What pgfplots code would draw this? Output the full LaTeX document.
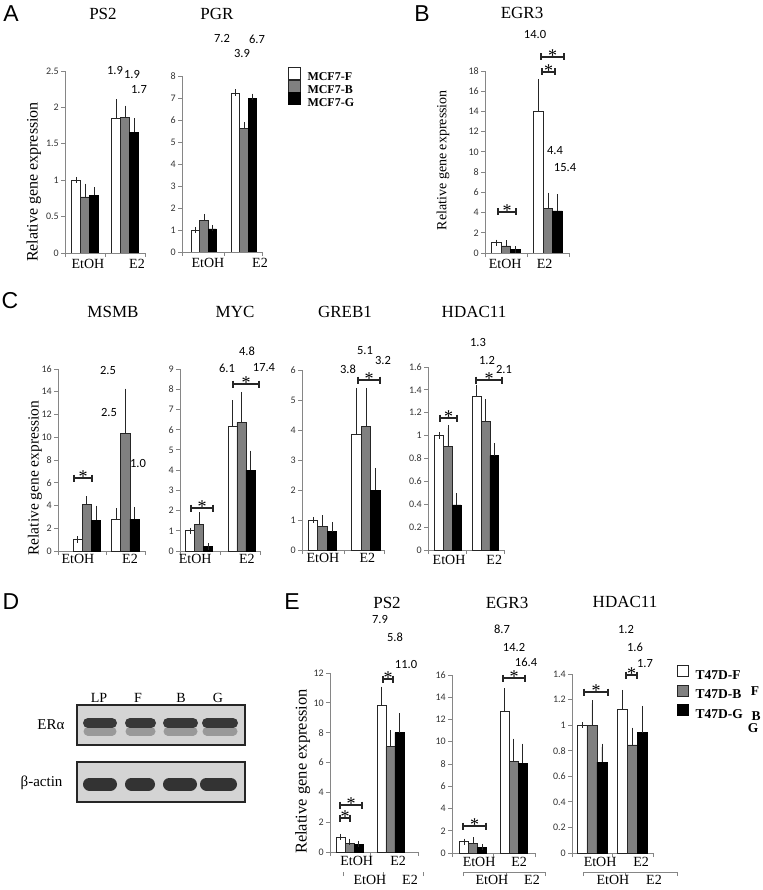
\documentclass[border=0pt]{standalone}
\usepackage{pgfplots}
\pgfplotsset{compat=1.18}
\usepackage{fontspec}
\setmainfont{Liberation Serif}
\newfontfamily\calfont{Carlito}
\newfontfamily\arialfont{Liberation Sans}

\definecolor{axgray}{RGB}{134,134,134}
\definecolor{barg}{RGB}{128,128,128}
\definecolor{blotbg}{RGB}{212,212,212}

\newcommand\tickfont{\calfont\fontsize{10}{10}\selectfont}
\newcommand\labfont{\fontsize{14}{14}\selectfont}
\newcommand\valfont{\calfont\fontsize{12.5}{12.5}\selectfont}
\newcommand\ttlfont{\fontsize{17}{17}\selectfont}
\newcommand\letfont{\arialfont\fontsize{23}{23}\selectfont}

% significance bracket: x1, x2, y (pixels, y down)
\newcommand\sig[3]{%
  \draw[black!85, line width=1.3pt] (#1,#3) -- (#2,#3) (#1,#3-3.5) -- (#1,#3+3.5) (#2,#3-3.5) -- (#2,#3+3.5);
  \node[font=\fontsize{18}{18}\selectfont, anchor=base, inner sep=0pt] at ({(#1+#2)/2},#3+4.5) {*};}

\pgfplotsset{
  bx/.style={
    scale only axis, anchor=south west, axis lines*=left,
    axis line style={draw=axgray, line width=0.8pt},
    tick style={draw=axgray, line width=0.8pt},
    tick align=outside, major tick length=4pt,
    ymin=0, ybar=0pt, bar width=9pt,
    xticklabels={,,},
    yticklabel style={font=\tickfont, text=black!80, inner sep=2pt},
    /pgf/number format/assume math mode=true,
    extra x tick labels={EtOH,E2},
    extra x tick style={major tick length=0pt, xticklabel style={font=\labfont, text=black}},
  },
  barF/.style={fill=white, draw=black!85, line width=0.8pt,
    error bars/.cd, y dir=plus, y explicit,
    error bar style={draw=black!85, line width=0.8pt},
    error mark options={draw=black!85, mark size=3.2pt, line width=0.8pt}},
  barB/.style={fill=barg, draw=black!85, line width=0.8pt,
    error bars/.cd, y dir=plus, y explicit,
    error bar style={draw=black!85, line width=0.8pt},
    error mark options={draw=black!85, mark size=3.2pt, line width=0.8pt}},
  barG/.style={fill=black, draw=black, line width=0.8pt,
    error bars/.cd, y dir=plus, y explicit,
    error bar style={draw=black!85, line width=0.8pt},
    error mark options={draw=black!85, mark size=3.2pt, line width=0.8pt}},
  sec/.style={
    scale only axis, anchor=south west, height=1pt, ymin=0, ymax=1,
    hide y axis, axis x line*=bottom,
    axis line style={draw=axgray, line width=0.8pt},
    tick style={draw=axgray, line width=0.8pt},
    tick align=outside, major tick length=4pt,
    xticklabels={,,},
    extra x tick labels={EtOH,E2},
    extra x tick style={major tick length=0pt, xticklabel style={font=\labfont, text=black}},
  },
  blot/.style={
    scale only axis, anchor=south west, width=168pt, height=40pt,
    xmin=77, xmax=245, ymin=0, ymax=40, xtick=\empty, ytick=\empty,
    axis line style={line width=1.5pt, black!85},
    axis background/.style={fill=blotbg},
    unbounded coords=jump,
  },
}

\begin{document}
\begin{tikzpicture}
\useasboundingbox (0,0) rectangle (762pt,-890pt);

% ---------------- A: PS2
\begin{axis}[bx, at={(65pt,-253pt)}, width=80pt, height=182pt,
  xmin=-0.5, xmax=1.5, xtick={-0.5,0.5,1.5}, extra x ticks={0.075,1.3},
  ymax=2.5, ytick distance=0.5,
  extra x tick style={xticklabel style={yshift=-3pt}},
  ylabel={Relative gene expression},
  ylabel style={at={(axis description cs:-0.39,0.39)}, anchor=center, font=\fontsize{16}{16}\selectfont}]
\addplot[barF] coordinates {(0,1.00) +- (0,0) (1,1.85) +- (0,0.22)};
\addplot[barB] coordinates {(0,0.77) +- (0,0.14) (1,1.86) +- (0,0.12)};
\addplot[barG] coordinates {(0,0.79) +- (0,0.07) (1,1.66) +- (0,0.15)};
\end{axis}

% ---------------- A: PGR
\begin{axis}[bx, at={(182pt,-252pt)}, width=80pt, height=176pt, bar width=8.3pt,
  xmin=-0.55, xmax=1.45, xtick={-0.55,0.5,1.45}, extra x ticks={0.1,1.4},
  ymax=8, ytick distance=1,
  extra x tick style={xticklabel style={yshift=-3pt}}]
\addplot[barF] coordinates {(0,1.00) +- (0,0) (1,7.20) +- (0,0.05)};
\addplot[barB] coordinates {(0,1.42) +- (0,0.17) (1,5.60) +- (0,0.15)};
\addplot[barG] coordinates {(0,1.05) +- (0,0.04) (1,7.00) +- (0,0.05)};
\end{axis}

% legend MCF7
\begin{axis}[hide axis, scale only axis, width=10pt, height=10pt,
  at={(288pt,-67pt)}, anchor=north west, xmin=0, xmax=1, ymin=0, ymax=1,
  legend style={at={(0,1)}, anchor=north west, draw=none, fill=none, inner sep=0pt,
    row sep=-3pt, font=\bfseries\fontsize{12}{12}\selectfont,
    nodes={inner sep=0.5pt},
    /tikz/every odd column/.append style={column sep=6pt}},
  legend cell align=left,
  legend image code/.code={\draw[#1] (0pt,-2pt) rectangle (12pt,10pt);}]
\addlegendimage{fill=white, draw=black!85, line width=0.8pt}
\addlegendentry{MCF7-F}
\addlegendimage{fill=barg, draw=black!85, line width=0.8pt}
\addlegendentry{MCF7-B}
\addlegendimage{fill=black, draw=black, line width=0.8pt}
\addlegendentry{MCF7-G}
\end{axis}

% ---------------- B: EGR3
\begin{axis}[bx, at={(485pt,-253pt)}, width=84pt, height=182pt, bar width=9.5pt,
  xmin=-0.5, xmax=1.5, xtick={-0.5,0.5,1.5}, extra x ticks={-0.02,0.92},
  ymax=18, ytick distance=2,
  extra x tick style={xticklabel style={yshift=-3pt}},
  ylabel={Relative gene expression},
  ylabel style={at={(axis description cs:-0.5,0.51)}, anchor=center, font=\fontsize{14}{14}\selectfont}]
\addplot[barF] coordinates {(0,1.00) +- (0,0) (1,14.0) +- (0,2.9)};
\addplot[barB] coordinates {(0,0.70) +- (0,0.25) (1,4.40) +- (0,1.25)};
\addplot[barG] coordinates {(0,0.35) +- (0,0) (1,4.16) +- (0,1.32)};
\end{axis}

% ---------------- C: MSMB
\begin{axis}[bx, at={(58pt,-551pt)}, width=87pt, height=182pt, bar width=9.2pt,
  xmin=-0.75, xmax=1.51, xtick={-0.75,0.5,1.51}, extra x ticks={-0.23,1.12},
  ymax=16, ytick distance=2,
  ylabel={Relative gene expression},
  ylabel style={at={(axis description cs:-0.264,0.40)}, anchor=center, font=\fontsize{15.5}{15.5}\selectfont}]
\addplot[barF] coordinates {(0,1.00) +- (0,0) (1,2.74) +- (0,0.73)};
\addplot[barB] coordinates {(0,4.10) +- (0,0.45) (1,10.3) +- (0,3.7)};
\addplot[barG] coordinates {(0,2.70) +- (0,1.00) (1,2.80) +- (0,0.80)};
\end{axis}

% ---------------- C: MYC
\begin{axis}[bx, at={(180pt,-551pt)}, width=80pt, height=182pt,
  xmin=-0.46, xmax=1.44, xtick={-0.46,0.5,1.44}, extra x ticks={-0.1,1.13},
  ymax=9, ytick distance=1]
\addplot[barF] coordinates {(0,1.00) +- (0,0) (1,6.14) +- (0,1.15)};
\addplot[barB] coordinates {(0,1.32) +- (0,0.43) (1,6.36) +- (0,1.35)};
\addplot[barG] coordinates {(0,0.22) +- (0,0) (1,4.00) +- (0,0.80)};
\end{axis}

% ---------------- C: GREB1
\begin{axis}[bx, at={(302pt,-550pt)}, width=82pt, height=180pt, bar width=9.5pt,
  xmin=-0.47, xmax=1.41, xtick={-0.47,0.5,1.41}, extra x ticks={0.01,1.03},
  ymax=6, ytick distance=1]
\addplot[barF] coordinates {(0,1.00) +- (0,0) (1,3.87) +- (0,1.43)};
\addplot[barB] coordinates {(0,0.80) +- (0,0.25) (1,4.13) +- (0,1.17)};
\addplot[barG] coordinates {(0,0.61) +- (0,0.22) (1,2.00) +- (0,0.63)};
\end{axis}

% ---------------- C: HDAC11
\begin{axis}[bx, at={(428pt,-550pt)}, width=76pt, height=183pt, bar width=8.7pt,
  xmin=-0.53, xmax=1.49, xtick={-0.53,0.5,1.49}, extra x ticks={0.03,1.23},
  ymax=1.6, ytick distance=0.2,
  extra x tick style={xticklabel style={yshift=-1.5pt}}]
\addplot[barF] coordinates {(0,1.00) +- (0,0) (1,1.343) +- (0,0.073)};
\addplot[barB] coordinates {(0,0.905) +- (0,0.16) (1,1.124) +- (0,0.166)};
\addplot[barG] coordinates {(0,0.394) +- (0,0.073) (1,0.826) +- (0,0.079)};
\end{axis}

% ---------------- D: western blot
\begin{axis}[blot, at={(77pt,-745pt)}]
\addplot[line width=9pt, line cap=round, black!40] coordinates
  {(88,14) (112,14) (nan,nan) (130,14) (151,14) (nan,nan) (168,14) (193,14) (nan,nan) (207,14) (233,14)};
\addplot[line width=10pt, line cap=round, black!78] coordinates
  {(88,22) (112,22) (nan,nan) (130,22) (151,22) (nan,nan) (168,22) (193,22) (nan,nan) (207,22) (233,22)};
\end{axis}
\begin{axis}[blot, at={(77pt,-802pt)}]
\addplot[line width=13pt, line cap=round, black!80] coordinates
  {(89.5,18) (110.5,18) (nan,nan) (131.5,18) (148.5,18) (nan,nan) (169.5,18) (190.5,18) (nan,nan) (206.5,18) (230.5,18)};
\end{axis}

% ---------------- E: PS2
\begin{axis}[bx, at={(330pt,-852pt)}, width=88pt, height=179pt,
  xmin=-0.49, xmax=1.68, xtick={-0.49,0.5,1.68}, extra x ticks={0.17,1.19},
  ymax=12, ytick distance=2,
  extra x tick style={xticklabel style={yshift=-1pt}},
  ylabel={Relative gene expression},
  ylabel style={at={(axis description cs:-0.31,0.45)}, anchor=center, font=\fontsize{16.5}{16.5}\selectfont}]
\addplot[barF] coordinates {(0,1.00) +- (0,0) (1,9.80) +- (0,1.07)};
\addplot[barB] coordinates {(0,0.60) +- (0,0.08) (1,7.06) +- (0,0.90)};
\addplot[barG] coordinates {(0,0.50) +- (0,0.03) (1,8.00) +- (0,1.08)};
\end{axis}
\begin{axis}[sec, at={(330pt,-872pt)}, width=93pt, xmin=330, xmax=423,
  axis line style={draw=none}, xtick={343,383,423}, extra x ticks={370,410}]
\addplot[draw=none] coordinates {(360,0.5)};
\end{axis}

% ---------------- E: EGR3
\begin{axis}[bx, at={(452pt,-853pt)}, width=83pt, height=178pt,
  xmin=-0.52, xmax=1.53, xtick={-0.52,0.5,1.53}, extra x ticks={0.15,1.14},
  ymax=16, ytick distance=2,
  extra x tick style={xticklabel style={yshift=-1pt}}]
\addplot[barF] coordinates {(0,1.00) +- (0,0) (1,12.7) +- (0,1.8)};
\addplot[barB] coordinates {(0,0.84) +- (0,0.30) (1,8.20) +- (0,1.80)};
\addplot[barG] coordinates {(0,0.54) +- (0,0) (1,8.05) +- (0,1.50)};
\end{axis}
\begin{axis}[sec, at={(463pt,-872pt)}, width=82pt, xmin=463, xmax=545,
  xtick={463,506,545}, extra x ticks={492,532}]
\addplot[draw=none] coordinates {(500,0.5)};
\end{axis}

% ---------------- E: HDAC11
\begin{axis}[bx, at={(572pt,-853pt)}, width=81pt, height=179pt, bar width=10pt,
  xmin=-0.49, xmax=1.5, xtick={-0.49,0.5,1.5}, extra x ticks={0.2,1.21},
  ymax=1.4, ytick distance=0.2,
  extra x tick style={xticklabel style={yshift=-1pt}}]
\addplot[barF] coordinates {(0,1.00) +- (0,0) (1,1.126) +- (0,0.124)};
\addplot[barB] coordinates {(0,0.997) +- (0,0.173) (1,0.845) +- (0,0.11)};
\addplot[barG] coordinates {(0,0.71) +- (0,0.12) (1,0.94) +- (0,0.186)};
\end{axis}
\begin{axis}[sec, at={(583pt,-872pt)}, width=94pt, xmin=583, xmax=677,
  xtick={583,625,677}, extra x ticks={613,654}]
\addplot[draw=none] coordinates {(600,0.5)};
\end{axis}

% legend T47D
\begin{axis}[hide axis, scale only axis, width=10pt, height=10pt,
  at={(677pt,-665pt)}, anchor=north west, xmin=0, xmax=1, ymin=0, ymax=1,
  legend style={at={(0,1)}, anchor=north west, draw=none, fill=none, inner sep=0pt,
    row sep=3.5pt, font=\bfseries\fontsize{13.5}{13.5}\selectfont,
    nodes={inner sep=0.5pt},
    /tikz/every odd column/.append style={column sep=6pt}},
  legend cell align=left,
  legend image code/.code={\draw[#1] (0pt,-1pt) rectangle (11pt,10pt);}]
\addlegendimage{fill=white, draw=black!85, line width=0.8pt}
\addlegendentry{T47D-F}
\addlegendimage{fill=barg, draw=black!85, line width=0.8pt}
\addlegendentry{T47D-B}
\addlegendimage{fill=black, draw=black, line width=0.8pt}
\addlegendentry{T47D-G}
\end{axis}

% ---------------- annotations
\begin{scope}[x=1pt, y=-1pt]
  % panel letters
  \node[font=\letfont] at (11,14) {A};
  \node[font=\letfont] at (422,14) {B};
  \node[font=\letfont] at (10,301) {C};
  \node[font=\letfont] at (11,602) {D};
  \node[font=\letfont] at (292,602) {E};
  % titles
  \node[font=\ttlfont] at (103,14) {PS2};
  \node[font=\ttlfont] at (217,14) {PGR};
  \node[font=\ttlfont] at (522,13) {EGR3};
  \node[font=\ttlfont] at (113,312) {MSMB};
  \node[font=\ttlfont] at (235,312) {MYC};
  \node[font=\ttlfont] at (345,312) {GREB1};
  \node[font=\ttlfont] at (474,312) {HDAC11};
  \node[font=\ttlfont] at (387,603) {PS2};
  \node[font=\ttlfont] at (507,603) {EGR3};
  \node[font=\ttlfont] at (625,602) {HDAC11};
  % values above bars
  \node[font=\valfont] at (115,70) {1.9};
  \node[font=\valfont] at (132,74) {1.9};
  \node[font=\valfont] at (139,90) {1.7};
  \node[font=\valfont] at (222,38) {7.2};
  \node[font=\valfont] at (242,53) {3.9};
  \node[font=\valfont] at (257,39) {6.7};
  \node[font=\valfont] at (535,34) {14.0};
  \node[font=\valfont] at (555,151) {4.4};
  \node[font=\valfont] at (565,168) {15.4};
  \node[font=\valfont] at (108,370) {2.5};
  \node[font=\valfont] at (109,412) {2.5};
  \node[font=\valfont] at (138,463) {1.0};
  \node[font=\valfont] at (247,351) {4.8};
  \node[font=\valfont] at (227,368) {6.1};
  \node[font=\valfont] at (264,368) {17.4};
  \node[font=\valfont] at (365,351) {5.1};
  \node[font=\valfont] at (383,360) {3.2};
  \node[font=\valfont] at (348,369) {3.8};
  \node[font=\valfont] at (478,342) {1.3};
  \node[font=\valfont] at (487,360) {1.2};
  \node[font=\valfont] at (504,369) {2.1};
  \node[font=\valfont] at (380,619) {7.9};
  \node[font=\valfont] at (395,637) {5.8};
  \node[font=\valfont] at (406,664) {11.0};
  \node[font=\valfont] at (502,629) {8.7};
  \node[font=\valfont] at (514,647) {14.2};
  \node[font=\valfont] at (526,662) {16.4};
  \node[font=\valfont] at (626,629) {1.2};
  \node[font=\valfont] at (635,647) {1.6};
  \node[font=\valfont] at (645,664) {1.7};
  % significance brackets
  \sig{498}{516}{212}
  \sig{542}{555}{72}
  \sig{541}{564}{57}
  \sig{74}{92}{478}
  \sig{191}{213}{508}
  \sig{233}{259}{384}
  \sig{358}{380}{380}
  \sig{440}{457}{418}
  \sig{476}{502}{380}
  \sig{340}{350}{818}
  \sig{340}{362}{805}
  \sig{383}{393}{679}
  \sig{463}{486}{826}
  \sig{503}{525}{678}
  \sig{584}{608}{692}
  \sig{626}{637}{675}
  % blot labels
  \node[font=\fontsize{14}{14}\selectfont] at (99,698) {LP};
  \node[font=\fontsize{14}{14}\selectfont] at (138,698) {F};
  \node[font=\fontsize{14}{14}\selectfont] at (181,698) {B};
  \node[font=\fontsize{14}{14}\selectfont] at (218,698) {G};
  \node[font=\fontsize{15}{15}\selectfont, anchor=east] at (68,725) {ERα};
  \node[font=\fontsize{15}{15}\selectfont, anchor=east] at (66,783) {β-actin};
  % stray legend letters
  \node[font=\bfseries\fontsize{13.5}{13.5}\selectfont] at (755,691) {F};
  \node[font=\bfseries\fontsize{13.5}{13.5}\selectfont] at (756,716) {B};
  \node[font=\bfseries\fontsize{13.5}{13.5}\selectfont] at (753,728) {G};
\end{scope}
\end{tikzpicture}
\end{document}
